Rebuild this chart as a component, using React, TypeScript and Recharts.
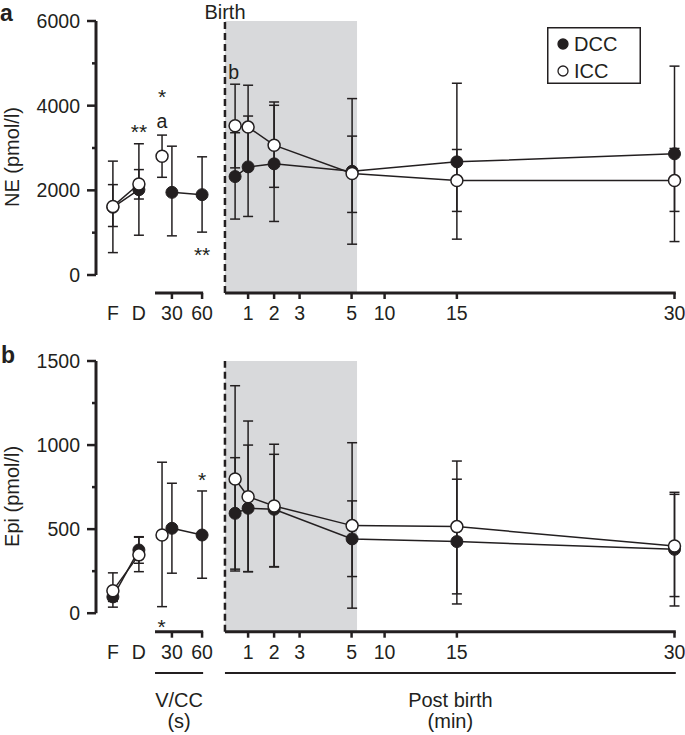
import React from 'react';
import {
  ComposedChart,
  Line,
  Scatter,
  XAxis,
  YAxis,
  ErrorBar,
  ReferenceLine,
  ReferenceArea,
  Legend,
} from 'recharts';

const INK = '#231f20';
const GRAY = '#d8d9db';
const FONT = '"Liberation Sans", Arial, Helvetica, sans-serif';

// ---- x axis (position units along the broken time axis) ----
const preLabels = ['F', 'D'];
const prePos = [0.65, 1.65];
const vccLabels = ['30', '60'];
const vccPos = [2.92, 4.08];
const postLabels = ['1', '2', '3', '5', '10', '15', '30'];
const postPos = [5.85, 6.85, 7.83, 9.83, 11.1, 13.88, 22.25];
const axisSegments = [
  [2.27, 4.12],
  [4.96, 22.3],
];
const groupNames = [
  ['V/CC', '(s)'],
  ['Post birth', '(min)'],
];
const birthPos = 4.96;
const grayEnd = 10.04;
const xDomain = [0, 22.5];

// ---- time points per series (F, D, 30 s, 60 s, birth, 1, 2, 5, 15, 30 min) ----
const dccPos = [0.65, 1.65, 2.92, 4.08, 5.35, 5.85, 6.85, 9.85, 13.88, 22.25];
const dccSeg = [0, 0, 1, 1, 2, 2, 2, 2, 2, 2];
// ICC: F, D, 30 s, birth, 1, 2, 5, 15, 30 min
const iccPos = [0.65, 1.65, 2.54, 5.35, 5.85, 6.85, 9.85, 13.88, 22.25];
const iccSeg = [0, 0, 1, 2, 2, 2, 2, 2, 2];

// ---- NE (pmol/l) ----
const neDcc = [1600, 2015, 1952, 1898, 2325, 2554, 2626, 2450, 2673, 2863];
const neDccLo = [529, 940, 925, 1013, 1321, 1383, 1265, 728, 847, 790];
const neDccHi = [2690, 3100, 3043, 2792, 3361, 3755, 4009, 4167, 4530, 4934];
const neIcc = [1620, 2150, 2806, 3526, 3494, 3067, 2396, 2230, 2230];
const neIccLo = [1146, 1795, 2308, 2531, 2505, 2071, 1478, 1502, 1502];
const neIccHi = [2135, 2490, 3305, 4507, 4483, 4087, 3281, 2965, 2989];
const neTicks = [0, 1000, 2000, 3000, 4000, 5000, 6000];
const neNotes = [
  { x: 1.65, y: 3494, t: '**' },
  { x: 2.54, y: 4317, t: '*' },
  { x: 2.54, y: 3582, t: 'a' },
  { x: 4.08, y: 593, t: '**' },
  { x: 5.3, y: 4803, t: 'b' },
];

// ---- Epi (pmol/l) ----
const epiDcc = [97, 376, 505, 465, 594, 624, 618, 442, 426, 380];
const epiDccLo = [70, 297, 238, 208, 262, 247, 275, 218, 55, 43];
const epiDccHi = [125, 455, 773, 727, 925, 1000, 945, 668, 797, 707];
const epiIcc = [134, 347, 465, 798, 693, 638, 521, 515, 400];
const epiIccLo = [36, 247, 39, 251, 247, 277, 30, 115, 99];
const epiIccHi = [240, 452, 898, 1353, 1143, 1005, 1014, 905, 719];
const epiTicks = [0, 250, 500, 750, 1000, 1250, 1500];
const epiNotes = [
  { x: 4.08, y: 822, t: '*' },
  { x: 2.52, y: -50, t: '*' },
];

const seriesNames = ['DCC', 'ICC'];

type Row = { x: number; y: number; lo: number; hi: number };

function segments(pos: number[], seg: number[], v: number[], lo: number[], hi: number[]): Row[][] {
  const out: Row[][] = [];
  pos.forEach((p, i) => {
    if (!out[seg[i]]) out[seg[i]] = [];
    out[seg[i]].push({ x: p, y: v[i], lo: lo[i], hi: hi[i] });
  });
  return out;
}

const xTicks = [
  ...preLabels.map((l, i) => ({ pos: prePos[i], label: l, mark: false })),
  ...vccLabels.map((l, i) => ({ pos: vccPos[i], label: l, mark: true })),
  ...postLabels.map((l, i) => ({ pos: postPos[i], label: l, mark: true })),
];

const errKey = (d: Row) => [d.y - d.lo, d.hi - d.y];

const XTick = (p: any) => {
  const { x, y, payload } = p;
  const t = xTicks.find((k) => Math.abs(k.pos - payload.value) < 1e-6);
  if (!t) return null;
  return (
    <g>
      {t.mark && <line x1={x} x2={x} y1={y} y2={y + 6} stroke={INK} strokeWidth={2.5} />}
      <text x={x} y={y + 27} textAnchor="middle" fontSize={19.5} fill={INK} fontFamily={FONT}>
        {t.label}
      </text>
    </g>
  );
};

const YTick = (p: any) => {
  const { x, y, payload, major } = p;
  const isMajor = payload.value % major === 0;
  return (
    <g>
      <line x1={x - (isMajor ? 9 : 4)} x2={x} y1={y} y2={y} stroke={INK} strokeWidth={2.5} />
      {isMajor && (
        <text x={x - 16} y={y} dy="0.355em" textAnchor="end" fontSize={19.5} fill={INK} fontFamily={FONT}>
          {payload.value}
        </text>
      )}
    </g>
  );
};

const NoteShape = (p: any) => {
  const { cx, cy, payload } = p;
  const t: string = payload.t;
  const isStar = t.includes('*');
  const fs = isStar ? 21 : 19.5;
  const dy = isStar ? '0.58em' : t === 'b' ? '0.36em' : '0.26em';
  return (
    <text x={cx} y={cy} dy={dy} textAnchor="middle" fontSize={fs} fill={INK} fontFamily={FONT}>
      {t}
    </text>
  );
};

const LegendBox = () => (
  <svg width={94} height={57} style={{ display: 'block' }}>
    <rect x={0.75} y={0.75} width={92.5} height={55.5} fill="#fff" stroke={INK} strokeWidth={1.5} />
    {seriesNames.map((n, i) => (
      <g key={n}>
        <circle
          cx={16}
          cy={17 + i * 27}
          r={5}
          fill={i === 0 ? INK : '#fff'}
          stroke={INK}
          strokeWidth={1.3}
        />
        <text x={27} y={17 + i * 27} dy="0.36em" fontSize={20} fill={INK} fontFamily={FONT}>
          {n}
        </text>
      </g>
    ))}
  </svg>
);

const bracketLabel = (l1: string, l2: string) => (p: any) => {
  const vb = p.viewBox || {};
  const cx = vb.x + (vb.width || 0) / 2;
  return (
    <g>
      <text x={cx} y={vb.y + 34} textAnchor="middle" fontSize={20} fill={INK} fontFamily={FONT}>
        {l1}
      </text>
      <text x={cx} y={vb.y + 55} textAnchor="middle" fontSize={20} fill={INK} fontFamily={FONT}>
        {l2}
      </text>
    </g>
  );
};

type PanelProps = {
  top: number;
  height: number;
  marginTop: number;
  marginBottom: number;
  yMin: number;
  yMax: number;
  ticks: number[];
  major: number;
  label: string;
  dcc: Row[][];
  icc: Row[][];
  notes: { x: number; y: number; t: string }[];
  birthLabel?: boolean;
  legend?: boolean;
  brackets?: number;
};

function Panel(props: PanelProps) {
  const { top, height, marginTop, marginBottom, yMin, yMax, ticks, major, label, dcc, icc, notes } = props;
  return (
    <div style={{ position: 'absolute', left: 0, top }}>
      <ComposedChart
        width={685}
        height={height}
        margin={{ top: marginTop, right: 4, bottom: marginBottom, left: 0 }}
        style={{ fontFamily: FONT }}
      >
        <XAxis
          type="number"
          dataKey="x"
          domain={xDomain}
          ticks={xTicks.map((t) => t.pos)}
          interval={0}
          axisLine={false}
          tickLine={false}
          tickSize={0}
          tickMargin={0}
          height={30}
          tick={<XTick />}
        />
        <YAxis
          type="number"
          domain={[yMin, yMax]}
          ticks={ticks}
          interval={0}
          axisLine={false}
          tickLine={false}
          tickSize={0}
          tickMargin={0}
          width={96}
          tick={<YTick major={major} />}
          label={{
            value: label,
            angle: -90,
            position: 'insideLeft',
            offset: 12,
            fill: INK,
            fontSize: 20,
            style: { textAnchor: 'middle', fontFamily: FONT },
          }}
        />
        <ReferenceArea
          x1={birthPos}
          x2={grayEnd}
          y1={yMin}
          y2={yMax}
          fill={GRAY}
          fillOpacity={1}
          stroke="none"
          ifOverflow="visible"
        />
        <ReferenceLine
          x={birthPos}
          stroke={INK}
          strokeWidth={2.5}
          strokeDasharray="7 4"
          ifOverflow="visible"
          label={
            props.birthLabel
              ? { value: 'Birth', position: 'top', offset: 2.5, fill: INK, fontSize: 20, style: { fontFamily: FONT } }
              : undefined
          }
        />
        <ReferenceLine
          segment={[
            { x: xDomain[0], y: 0 },
            { x: xDomain[0], y: yMax },
          ]}
          stroke={INK}
          strokeWidth={3}
          ifOverflow="visible"
        />
        {axisSegments.map((s, i) => (
          <ReferenceLine
            key={'ax' + i}
            segment={[
              { x: s[0], y: yMin },
              { x: s[1], y: yMin },
            ]}
            stroke={INK}
            strokeWidth={3}
            ifOverflow="visible"
          />
        ))}
        {props.brackets !== undefined &&
          axisSegments.map((s, i) => (
            <ReferenceLine
              key={'br' + i}
              segment={[
                { x: s[0], y: props.brackets as number },
                { x: s[1], y: props.brackets as number },
              ]}
              stroke={INK}
              strokeWidth={2}
              ifOverflow="visible"
              label={{ content: bracketLabel(groupNames[i][0], groupNames[i][1]) }}
            />
          ))}
        {[...dcc, ...icc].map((seg, i) => (
          <Line
            key={'err' + i}
            data={seg}
            dataKey="y"
            stroke="none"
            dot={false}
            activeDot={false}
            legendType="none"
            isAnimationActive={false}
          >
            <ErrorBar dataKey={errKey} width={5} stroke={INK} strokeWidth={1.5} direction="y" />
          </Line>
        ))}
        {dcc.map((seg, i) => (
          <Line
            key={'dcc' + i}
            name="DCC"
            data={seg}
            dataKey="y"
            stroke={INK}
            strokeWidth={1.5}
            dot={{ r: 6, fill: INK, stroke: INK, strokeWidth: 1 }}
            activeDot={false}
            isAnimationActive={false}
          />
        ))}
        {icc.map((seg, i) => (
          <Line
            key={'icc' + i}
            name="ICC"
            data={seg}
            dataKey="y"
            stroke={INK}
            strokeWidth={1.5}
            dot={{ r: 6, fill: '#fff', stroke: INK, strokeWidth: 1.5 }}
            activeDot={false}
            isAnimationActive={false}
          />
        ))}
        <Scatter data={notes} dataKey="y" shape={<NoteShape />} legendType="none" isAnimationActive={false} />
        {props.legend && (
          <Legend
            layout="vertical"
            align="center"
            verticalAlign="middle"
            wrapperStyle={{ left: 547, top: 27, width: 94, height: 57 }}
            content={() => <LegendBox />}
          />
        )}
      </ComposedChart>
    </div>
  );
}

export default function App() {
  return (
    <div
      style={{
        position: 'absolute',
        left: 0,
        top: 0,
        width: 685,
        height: 735,
        background: '#fff',
        overflow: 'hidden',
        fontFamily: FONT,
      }}
    >
      <Panel
        top={0}
        height={330}
        marginTop={21}
        marginBottom={7}
        yMin={-425}
        yMax={6000}
        ticks={neTicks}
        major={2000}
        label="NE (pmol/l)"
        dcc={segments(dccPos, dccSeg, neDcc, neDccLo, neDccHi)}
        icc={segments(iccPos, iccSeg, neIcc, neIccLo, neIccHi)}
        notes={neNotes}
        birthLabel
        legend
      />
      <Panel
        top={330}
        height={405}
        marginTop={31}
        marginBottom={73.3}
        yMin={-110}
        yMax={1500}
        ticks={epiTicks}
        major={500}
        label="Epi (pmol/l)"
        dcc={segments(dccPos, dccSeg, epiDcc, epiDccLo, epiDccHi)}
        icc={segments(iccPos, iccSeg, epiIcc, epiIccLo, epiIccHi)}
        notes={epiNotes}
        brackets={-355}
      />
      <svg style={{ position: 'absolute', left: 0, top: 0, pointerEvents: 'none' }} width={40} height={735}>
        <text x={0} y={21} fontSize={23} fontWeight="bold" fill={INK} fontFamily={FONT}>
          a
        </text>
        <text x={1} y={363} fontSize={23} fontWeight="bold" fill={INK} fontFamily={FONT}>
          b
        </text>
      </svg>
    </div>
  );
}
